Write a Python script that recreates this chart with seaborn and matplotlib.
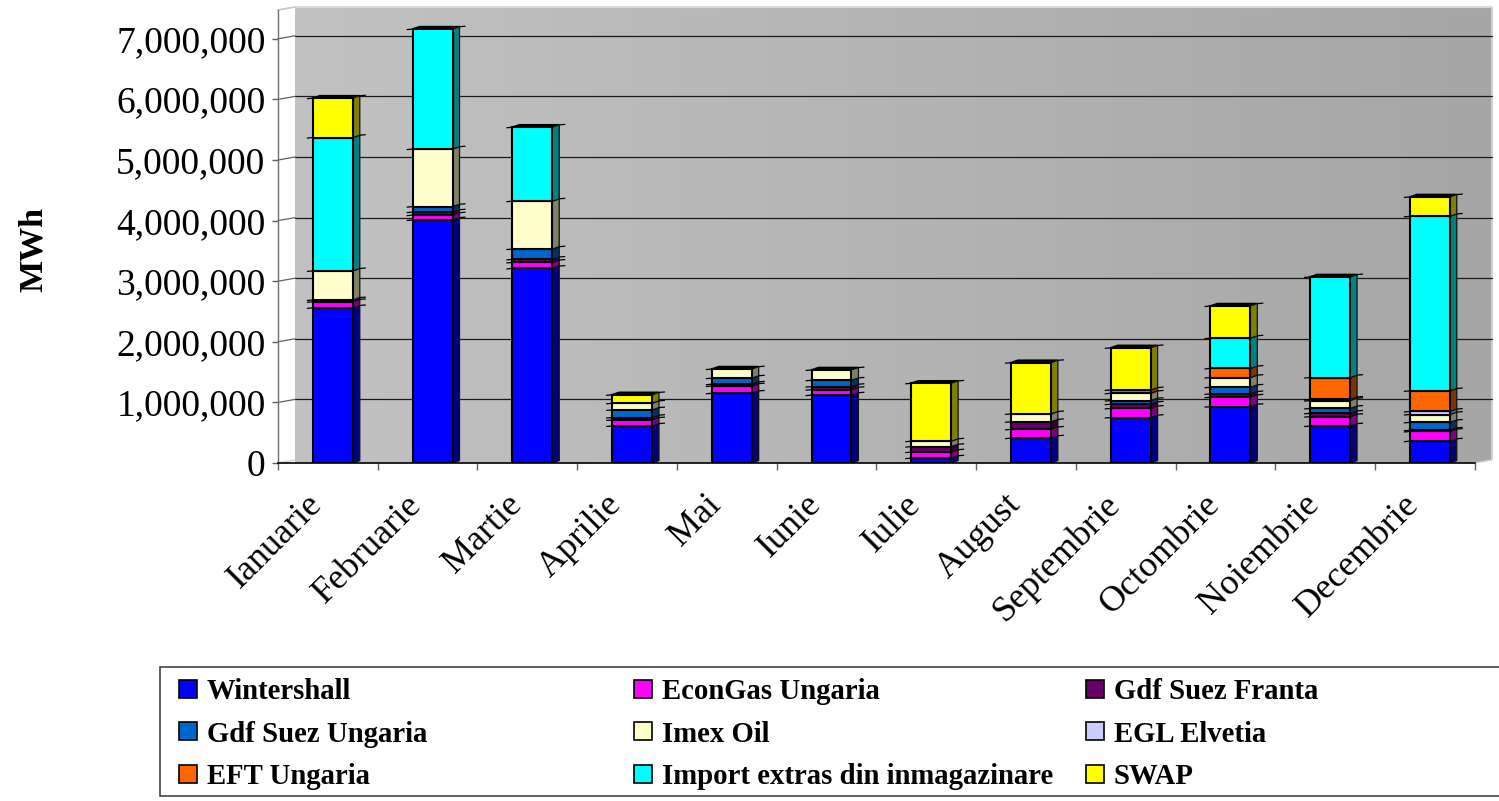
import numpy as np
import pandas as pd
import matplotlib
matplotlib.use("Agg")
import matplotlib.pyplot as plt
import matplotlib.transforms as mtrans
from matplotlib.colors import to_rgb
from matplotlib.patches import Polygon, Rectangle, Patch
from matplotlib.ticker import FuncFormatter
import seaborn as sns

months = ["Ianuarie", "Februarie", "Martie", "Aprilie", "Mai", "Iunie", "Iulie",
          "August", "Septembrie", "Octombrie", "Noiembrie", "Decembrie"]
wintershall = [2560000, 4010000, 3210000, 610000, 1150000, 1120000, 80000, 410000, 750000, 930000, 610000, 360000]
econgas = [100000, 80000, 100000, 100000, 120000, 90000, 100000, 145000, 150000, 155000, 155000, 160000]
gdf_franta = [30000, 50000, 50000, 40000, 30000, 50000, 90000, 125000, 70000, 55000, 55000, 20000]
gdf_ungaria = [0, 90000, 170000, 125000, 100000, 105000, 0, 0, 60000, 110000, 80000, 130000]
imex = [480000, 950000, 790000, 110000, 150000, 170000, 90000, 130000, 120000, 160000, 130000, 130000]
egl = [0, 0, 0, 0, 0, 0, 0, 0, 0, 0, 20000, 50000]
eft = [0, 0, 0, 0, 0, 0, 0, 0, 55000, 150000, 360000, 340000]
import_extras = [2200000, 1980000, 1220000, 0, 0, 0, 0, 0, 0, 500000, 1660000, 2880000]
swap = [650000, 0, 0, 140000, 0, 0, 955000, 845000, 695000, 530000, 0, 320000]

series_names = ["Wintershall", "EconGas Ungaria", "Gdf Suez Franta", "Gdf Suez Ungaria", "Imex Oil",
                "EGL Elvetia", "EFT Ungaria", "Import extras din inmagazinare", "SWAP"]
series_values = [wintershall, econgas, gdf_franta, gdf_ungaria, imex, egl, eft, import_extras, swap]
series_colors = ["#0000FF", "#FF00FF", "#660066", "#0066CC", "#FFFFCC", "#CCCCFF", "#FF6600", "#00FFFF", "#FFFF00"]
y_ticks = [0, 1000000, 2000000, 3000000, 4000000, 5000000, 6000000, 7000000]

SERIF = ["Liberation Serif", "DejaVu Serif"]
sns.set_style("white")
plt.rcParams["font.family"] = SERIF
plt.rcParams["text.color"] = "black"
plt.rcParams["xtick.labelcolor"] = "black"
plt.rcParams["ytick.labelcolor"] = "black"

W, H = 1499, 801
fig = plt.figure(figsize=(W / 100, H / 100), dpi=100, facecolor="white")
ax = fig.add_axes([278 / W, (H - 463) / H, (1474.7 - 278) / W, 453 / H])
ax.set_facecolor("none")

XLIM = (-0.55, 11.45)
YLIM = (0, 453 / 60.6e-6)
PX, PY = 1 / 99.72, 1 / 60.6e-6      # one pixel in data units
back = mtrans.offset_copy(ax.transData, fig, x=17, y=3, units="dots")

# back wall running down to the front edge of the floor
grad = np.linspace(0, 1, 256).reshape(1, -1)
wall = ax.imshow(grad, extent=(XLIM[0], XLIM[1], -3 * PY, YLIM[1]), transform=back, aspect="auto",
                 cmap=matplotlib.colors.LinearSegmentedColormap.from_list("w", ["#C2C2C2", "#A6A6A6"]),
                 zorder=0, origin="lower")
wall.set_clip_box(fig.bbox)
wall.set_clip_path(Polygon([(XLIM[0], 0), (XLIM[1], 0), (XLIM[1] + 17 * PX, 3 * PY),
                            (XLIM[1] + 17 * PX, YLIM[1] + 3 * PY), (XLIM[0], YLIM[1] + 3 * PY)],
                           transform=ax.transData))
ax.add_patch(Polygon([(XLIM[0], YLIM[1]), (XLIM[1], YLIM[1])], closed=False, transform=back,
                     ec="#D8D8D8", fc="none", lw=1.5, clip_on=False, zorder=0.2))
ax.add_patch(Polygon([(XLIM[1], YLIM[0]), (XLIM[1], YLIM[1])], closed=False, transform=back,
                     ec="#D0D0D0", fc="none", lw=1.5, clip_on=False, zorder=0.2))
ax.plot([XLIM[1], XLIM[1] + 17 * PX], [0, 3 * PY], color="#D0D0D0", lw=1.0, clip_on=False, zorder=0.2)
for t in y_ticks:
    if t > 0:
        ax.plot(XLIM, [t, t], transform=back, color="#1A1A1A", lw=0.9, zorder=0.5, clip_on=False)
    ax.plot([XLIM[0], XLIM[0] + 17 * PX], [t, t + 3 * PY], color="#606060" if t else "#D0D0D0", lw=0.9,
            zorder=0.5, clip_on=False)
ax.plot([XLIM[0] + 17 * PX, XLIM[0]], [YLIM[1] + 3 * PY, YLIM[1]], color="#C8C8C8", lw=1.2, clip_on=False)

# stacked bars, front faces through seaborn, depth faces from the same values
BAR = 0.4
DX, DY = 7 * PX, 2.4 * PY
SPIKE = 6 * PX
bottoms = np.zeros(len(months))
for name, vals, col in zip(series_names, series_values, series_colors):
    vals = np.array(vals, dtype=float)
    keep = vals > 0
    df = pd.DataFrame({"luna": np.array(months)[keep], "v": vals[keep]})
    sns.barplot(data=df, x="luna", y="v", order=months, color=col, saturation=1, width=BAR,
                bottom=bottoms[keep], edgecolor="black", linewidth=1.5, errorbar=None, ax=ax, zorder=3)
    dark = tuple(c * 0.5 for c in to_rgb(col))
    for i in np.where(keep)[0]:
        xr, xl = i + BAR / 2, i - BAR / 2
        y0, y1 = bottoms[i], bottoms[i] + vals[i]
        ax.add_patch(Polygon([(xr, y0), (xr + DX, y0 + DY), (xr + DX, y1 + DY), (xr, y1)], fc=dark,
                             ec="#111111", lw=0.9, zorder=2.8, joinstyle="round"))
        ax.add_patch(Polygon([(xl, y1), (xr, y1), (xr + DX, y1 + DY), (xl + DX, y1 + DY)], fc="#111111",
                             ec="black", lw=1.3, zorder=2.5, joinstyle="miter"))
        ax.plot([xl - SPIKE, xl], [y1 - 0.5 * PY, y1], color="black", lw=0.9, zorder=2.6, solid_capstyle="butt")
        ax.plot([xr + DX, xr + DX + SPIKE], [y1 + DY, y1 + DY + 0.5 * PY], color="black", lw=0.9, zorder=2.9,
                solid_capstyle="butt")
    bottoms = bottoms + vals

ax.set_xlim(*XLIM)
ax.set_ylim(*YLIM)
ax.set_xlabel("")
ax.set_ylabel("")
for s in ["top", "right"]:
    ax.spines[s].set_visible(False)
ax.spines["left"].set_color("#707070")
ax.spines["left"].set_linewidth(1.0)
ax.spines["bottom"].set_color("black")
ax.spines["bottom"].set_linewidth(1.2)
ax.spines["bottom"].set_zorder(4)
ax.set_yticks(y_ticks)
ax.yaxis.set_major_formatter(FuncFormatter(lambda v, _: f"{int(v):,}"))
ax.tick_params(axis="y", left=True, length=4.5, width=1.0, color="#606060", labelsize=27, pad=4.5, labelcolor="black")
ax.set_xticks(range(len(months)))
ax.set_xticklabels(months, rotation=45, ha="right", rotation_mode="anchor", fontsize=26, color="black")
ax.tick_params(axis="x", which="major", bottom=False, length=0, pad=18)
shift = mtrans.ScaledTranslation(-27 / 100, 0, fig.dpi_scale_trans)
for lab in ax.get_xticklabels():
    lab.set_transform(lab.get_transform() + shift)
ax.set_xticks(np.arange(XLIM[0], XLIM[1] + 0.01, 1.0), minor=True)
ax.tick_params(axis="x", which="minor", bottom=True, length=5, width=1.0, color="#606060")

fig.text(33 / W, 1 - 250 / H, "MWh", rotation=90, ha="center", va="center", fontsize=24.5, fontweight="bold", color="black")

# legend box and three equally spaced columns
fig.add_artist(Rectangle((159.5 / W, 1 - 795.5 / H), 1345 / W, 129 / H, transform=fig.transFigure,
                         fc="white", ec="#333333", lw=1.1, clip_on=True))
order = [[0, 3, 6], [1, 4, 7], [2, 5, 8]]
col_x = [179, 634, 1086]
for idx, x in zip(order, col_x):
    handles = [Patch(fc=series_colors[i], ec="black", lw=1.2) for i in idx]
    fig.legend(handles, [series_names[i] for i in idx], loc="center left", bbox_to_anchor=(x / W, 1 - 734 / H),
               frameon=False, ncols=1, borderpad=0, borderaxespad=0,
               handlelength=0.62, handleheight=0.58, handletextpad=0.34, labelspacing=0.54,
               labelcolor="black", prop={"family": SERIF, "weight": "bold", "size": 20.7})

fig.savefig("out.png", dpi=100, facecolor="white")
